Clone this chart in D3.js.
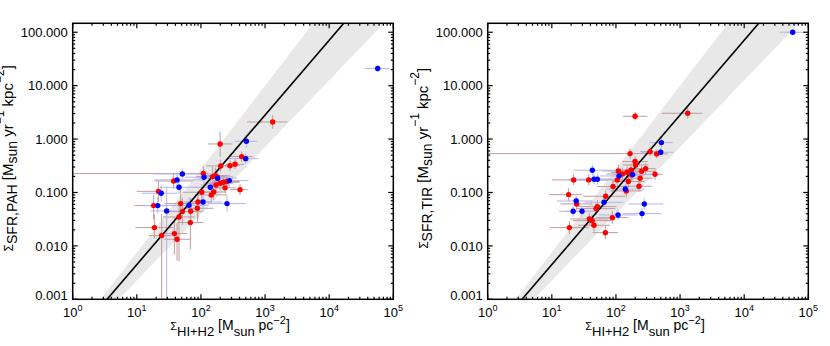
<!DOCTYPE html>
<html lang="en">
<head>
<meta charset="UTF-8">
<title></title>
<script src="https://cdn.jsdelivr.net/npm/d3@7"></script>
<style>
  body { margin: 0; background: #fff; }
  text { font-family: "Liberation Sans", Arial, sans-serif; fill: #000; }
</style>
</head>
<body>
<script>

var w = 830;
var h = 346;

// axis ranges and ticks
var xRange = [1, 1e5];
var yRange = [0.001, 147];
var xTicks = [1, 10, 100, 1000, 10000, 100000];
var xTickExp = ["0", "1", "2", "3", "4", "5"];
var yTicks = [0.001, 0.01, 0.1, 1, 10, 100];
var yTickLabels = ["0.001", "0.010", "0.100", "1.000", "10.000", "100.000"];

// power-law fit: [slope, log10 intercept], and the edges of the grey band
var fitLine = [1.4, -3.75];
var bandUpper = [1.56, -3.68];
var bandLower = [1.25, -3.90];

// points: [sigma gas, sigma sfr, xerr lo, xerr hi, yerr lo, yerr hi]  (errors in dex)
var pahRed = [
  [1315, 2.09, 0.40, 0.23, 0.13, 0.13], [199, 0.81, 0.19, 0.19, 0.24, 0.23],
  [432, 0.47, 0.17, 0.17, 0.10, 0.10], [284, 0.318, 0.15, 0.15, 0.10, 0.10],
  [340, 0.337, 0.14, 0.14, 0.09, 0.09], [203, 0.314, 0.22, 0.20, 0.12, 0.12],
  [109, 0.226, 2.04, 0.08, 0.14, 0.14], [152, 0.198, 0.25, 0.20, 0.20, 0.18],
  [168, 0.207, 0.20, 0.20, 0.15, 0.15], [180, 0.195, 0.20, 0.25, 0.15, 0.15],
  [199, 0.149, 0.25, 0.20, 0.12, 0.12], [224, 0.155, 0.20, 0.25, 0.10, 0.10],
  [252, 0.160, 0.20, 0.20, 0.10, 0.10], [172, 0.138, 0.20, 0.20, 0.12, 0.12],
  [238, 0.122, 0.18, 0.18, 0.10, 0.10], [407, 0.113, 0.15, 0.12, 0.10, 0.10],
  [103, 0.101, 0.30, 0.25, 0.15, 0.15], [158, 0.102, 0.20, 0.20, 0.15, 0.15],
  [145, 0.090, 0.25, 0.25, 0.15, 0.15], [37.6, 0.164, 0.30, 0.30, 0.15, 0.15],
  [21.7, 0.105, 0.34, 0.08, 0.20, 0.20], [18.3, 0.0568, 0.30, 0.20, 0.25, 0.20],
  [48.3, 0.0619, 0.25, 0.25, 0.25, 0.30], [90.1, 0.0665, 0.20, 0.20, 0.30, 0.20],
  [87.9, 0.0506, 0.25, 0.25, 0.25, 0.20], [51.3, 0.0438, 0.25, 0.25, 0.25, 0.25],
  [69.2, 0.0444, 0.20, 0.20, 0.25, 0.25], [45.5, 0.0348, 0.25, 0.25, 0.83, 0.30],
  [68.4, 0.0273, 0.20, 0.20, 0.50, 0.25], [18.8, 0.0220, 0.30, 0.30, 0.20, 0.25],
  [24.4, 0.0156, 0.20, 0.15, 1.19, 0.40], [38.5, 0.0170, 0.20, 0.20, 0.40, 0.30],
  [42.4, 0.0133, 0.20, 0.20, 0.40, 0.30]
];
var pahBlue = [
  [57100, 20.9, 0.20, 0.18, 0.06, 0.06], [511, 0.91, 0.18, 0.18, 0.12, 0.12],
  [499, 0.43, 0.30, 0.20, 0.10, 0.10], [51.3, 0.222, 0.45, 0.45, 0.10, 0.10],
  [42.4, 0.172, 0.35, 0.40, 0.12, 0.12], [45.5, 0.125, 0.30, 0.30, 0.12, 0.12],
  [24.0, 0.0966, 0.30, 0.25, 0.15, 0.15], [111.7, 0.193, 0.30, 0.30, 0.12, 0.12],
  [182, 0.185, 0.30, 0.30, 0.12, 0.12], [140, 0.125, 0.30, 0.30, 0.12, 0.12],
  [277, 0.167, 0.30, 0.30, 0.12, 0.12], [21.2, 0.0568, 0.22, 0.35, 0.15, 0.15],
  [29.2, 0.0451, 0.25, 0.25, 1.65, 0.45], [65.2, 0.0576, 0.30, 0.30, 0.15, 0.15],
  [107.8, 0.0665, 0.30, 0.30, 0.15, 0.15], [255, 0.0619, 0.30, 0.30, 0.15, 0.15]
];
var tirRed = [
  [1315, 3.04, 0.40, 0.23, 0.10, 0.10], [199, 2.67, 0.19, 0.19, 0.08, 0.08],
  [340, 0.582, 0.15, 0.15, 0.08, 0.08], [166, 0.534, 2.22, 0.25, 0.10, 0.10],
  [432, 0.527, 0.17, 0.17, 0.08, 0.08], [199, 0.379, 0.20, 0.20, 0.10, 0.10],
  [203, 0.328, 0.20, 0.20, 0.10, 0.10], [291, 0.280, 0.15, 0.15, 0.10, 0.10],
  [252, 0.249, 0.20, 0.20, 0.10, 0.10], [109, 0.253, 0.25, 0.25, 0.12, 0.12],
  [126, 0.222, 0.25, 0.25, 0.12, 0.12], [149, 0.239, 0.25, 0.25, 0.12, 0.12],
  [172, 0.264, 0.20, 0.20, 0.12, 0.12], [176, 0.213, 0.20, 0.20, 0.12, 0.12],
  [105, 0.172, 0.25, 0.25, 0.12, 0.12], [156, 0.160, 0.25, 0.25, 0.12, 0.12],
  [238, 0.185, 0.20, 0.20, 0.10, 0.10], [407, 0.219, 0.15, 0.12, 0.10, 0.10],
  [229, 0.131, 0.25, 0.20, 0.10, 0.10], [90.1, 0.129, 0.25, 0.25, 0.12, 0.12],
  [145, 0.107, 0.25, 0.25, 0.12, 0.12], [21.9, 0.172, 0.34, 0.30, 0.10, 0.10],
  [37.6, 0.172, 0.30, 0.30, 0.10, 0.10], [18.3, 0.0912, 0.30, 0.20, 0.12, 0.12],
  [24.4, 0.0610, 0.25, 0.25, 0.12, 0.12], [69.2, 0.0849, 0.35, 0.30, 0.12, 0.12],
  [51.3, 0.0543, 0.30, 0.30, 0.12, 0.12], [48.9, 0.0499, 0.30, 0.30, 0.12, 0.12],
  [38.5, 0.0319, 0.30, 0.30, 0.12, 0.12], [42.4, 0.0297, 0.30, 0.30, 0.12, 0.12],
  [88.0, 0.0338, 0.25, 0.25, 0.12, 0.12], [45.5, 0.0243, 0.25, 0.25, 0.12, 0.12],
  [18.8, 0.0220, 0.30, 0.30, 0.12, 0.12], [68.4, 0.0177, 0.20, 0.20, 0.12, 0.12]
];
var tirBlue = [
  [57100, 100, 0.20, 0.18, 0.05, 0.05], [511, 0.859, 0.18, 0.18, 0.10, 0.10],
  [499, 0.566, 0.30, 0.20, 0.08, 0.08], [42.9, 0.261, 0.30, 0.35, 0.10, 0.10],
  [45.5, 0.177, 0.40, 0.30, 0.10, 0.10], [51.3, 0.177, 0.30, 0.30, 0.10, 0.10],
  [111.7, 0.204, 0.30, 0.30, 0.10, 0.10], [182, 0.216, 0.30, 0.30, 0.10, 0.10],
  [140, 0.116, 0.30, 0.30, 0.10, 0.10], [24.0, 0.0694, 0.30, 0.25, 0.10, 0.10],
  [21.5, 0.0444, 0.22, 0.35, 0.10, 0.10], [29.6, 0.0444, 0.25, 0.25, 0.10, 0.10],
  [65.2, 0.0655, 0.30, 0.30, 0.10, 0.10], [277, 0.061, 0.25, 0.30, 0.10, 0.10],
  [107.8, 0.0379, 0.30, 0.30, 0.10, 0.10], [255, 0.0402, 0.30, 0.30, 0.10, 0.10]
];

var svg = d3.select("body").append("svg")
    .attr("width", w)
    .attr("height", h);

var pL = 72.7, pR = 393.3, pT = 23.3, pB = 299.3;

var x = d3.scaleLog().domain(xRange).range([pL, pR]);
var y = d3.scaleLog().domain(yRange).range([pB, pT]);

function powerLaw(p, g) { return Math.pow(10, p[1] + p[0] * Math.log10(g)); }

function drawPanel(offset, id, ySub, red, blue) {
    var g = svg.append("g").attr("transform", "translate(" + offset + ",0)");

    g.append("clipPath").attr("id", "clip" + id)
      .append("rect")
        .attr("x", pL).attr("y", pT)
        .attr("width", pR - pL).attr("height", pB - pT);

    var plot = g.append("g").attr("clip-path", "url(#clip" + id + ")");

    // grey band
    var bandPts = xRange.map(function(d) { return [x(d), y(powerLaw(bandUpper, d))]; })
        .concat(xRange.slice().reverse().map(function(d) { return [x(d), y(powerLaw(bandLower, d))]; }));
    plot.append("path")
        .attr("d", "M" + bandPts.join("L") + "Z")
        .attr("fill", "#e8e8e8");

    // error bars
    function errBars(data, col) {
        var eb = plot.append("g").attr("stroke", col).attr("stroke-width", 1);
        eb.selectAll("line.h").data(data).enter().append("line")
            .attr("x1", function(d) { return x(d[0] / Math.pow(10, d[2])); })
            .attr("x2", function(d) { return x(d[0] * Math.pow(10, d[3])); })
            .attr("y1", function(d) { return y(d[1]); })
            .attr("y2", function(d) { return y(d[1]); });
        eb.selectAll("line.v").data(data).enter().append("line")
            .attr("x1", function(d) { return x(d[0]); })
            .attr("x2", function(d) { return x(d[0]); })
            .attr("y1", function(d) { return y(d[1] / Math.pow(10, d[4])); })
            .attr("y2", function(d) { return y(d[1] * Math.pow(10, d[5])); });
    }
    errBars(red, "#c39a9a");
    errBars(blue, "#b4b4f2");

    // fit line
    plot.append("line")
        .attr("x1", x(xRange[0])).attr("y1", y(powerLaw(fitLine, xRange[0])))
        .attr("x2", x(xRange[1])).attr("y2", y(powerLaw(fitLine, xRange[1])))
        .attr("stroke", "#000").attr("stroke-width", 1.6);

    function dots(data, col) {
        plot.append("g").selectAll("circle").data(data).enter().append("circle")
            .attr("cx", function(d) { return x(d[0]); })
            .attr("cy", function(d) { return y(d[1]); })
            .attr("r", 2.7)
            .attr("fill", col);
    }
    dots(red, "#ff0000");
    dots(blue, "#0000ff");

    // frame
    g.append("rect")
        .attr("x", pL).attr("y", pT)
        .attr("width", pR - pL).attr("height", pB - pT)
        .attr("fill", "none").attr("stroke", "#000").attr("stroke-width", 1.5);

    // ticks on all four sides, pointing in
    var xMinor = [], yMinor = [];
    xTicks.slice(0, -1).forEach(function(t) { for (var k = 2; k < 10; k++) xMinor.push(t * k); });
    yTicks.forEach(function(t) { for (var k = 2; k < 10; k++) if (t * k <= yRange[1]) yMinor.push(t * k); });

    var tk = g.append("g").attr("stroke", "#000").attr("stroke-width", 1.2);
    function xt(vals, len) {
        vals.forEach(function(v) {
            tk.append("line").attr("x1", x(v)).attr("x2", x(v)).attr("y1", pB).attr("y2", pB - len);
            tk.append("line").attr("x1", x(v)).attr("x2", x(v)).attr("y1", pT).attr("y2", pT + len);
        });
    }
    function yt(vals, len) {
        vals.forEach(function(v) {
            tk.append("line").attr("y1", y(v)).attr("y2", y(v)).attr("x1", pL).attr("x2", pL + len);
            tk.append("line").attr("y1", y(v)).attr("y2", y(v)).attr("x1", pR).attr("x2", pR - len);
        });
    }
    xt(xTicks, 5); xt(xMinor, 2.5);
    yt(yTicks, 5); yt(yMinor, 2.5);

    // tick labels
    g.selectAll("text.yl").data(yTicks).enter().append("text")
        .attr("x", pL - 5)
        .attr("y", function(d) { return Math.min(y(d), pB - 4); })
        .attr("dy", "0.36em")
        .attr("text-anchor", "end")
        .attr("font-size", "13px")
        .text(function(d, i) { return yTickLabels[i]; });

    var xl = g.selectAll("text.xl").data(xTicks).enter().append("text")
        .attr("x", function(d) { return x(d); })
        .attr("y", 317)
        .attr("text-anchor", "middle")
        .attr("font-size", "13px");
    xl.append("tspan").text("10");
    xl.append("tspan").attr("font-size", "9px").attr("dy", -6)
        .text(function(d, i) { return xTickExp[i]; });

    // x title
    var xt2 = g.append("text")
        .attr("x", (pL + pR) / 2 - 3)
        .attr("y", 330)
        .attr("text-anchor", "middle")
        .attr("font-size", "14px");
    xt2.append("tspan").attr("font-size", "11px").text("Σ");
    xt2.append("tspan").attr("font-size", "13px").attr("dy", 6).text("HI+H2");
    xt2.append("tspan").attr("dy", -6).text(" [M");
    xt2.append("tspan").attr("font-size", "13px").attr("dy", 6).text("sun");
    xt2.append("tspan").attr("dy", -6).text(" pc");
    xt2.append("tspan").attr("font-size", "11px").attr("dy", -6).text("−2");
    xt2.append("tspan").attr("dy", 6).text("]");

    // y title (superscripts run off the left edge, as in the original)
    var yt2 = g.append("text")
        .attr("transform", "translate(12.5," + ((pT + pB) / 2 - 3) + ") rotate(-90)")
        .attr("text-anchor", "middle")
        .attr("font-size", "15px");
    yt2.append("tspan").attr("font-size", "12px").text("Σ");
    yt2.append("tspan").attr("font-size", "14px").attr("dy", 4).text(ySub);
    yt2.append("tspan").attr("dy", -4).text(" [M");
    yt2.append("tspan").attr("font-size", "14px").attr("dy", 4).text("sun");
    yt2.append("tspan").attr("dy", -4).text(" yr");
    yt2.append("tspan").attr("font-size", "12px").attr("dy", -9).text("−1");
    yt2.append("tspan").attr("dy", 9).text(" kpc");
    yt2.append("tspan").attr("font-size", "12px").attr("dy", -9).text("−2");
    yt2.append("tspan").attr("dy", 9).text("]");
}

drawPanel(0, "a", "SFR,PAH", pahRed, pahBlue);
drawPanel(415, "b", "SFR,TIR", tirRed, tirBlue);

</script>
</body>
</html>
